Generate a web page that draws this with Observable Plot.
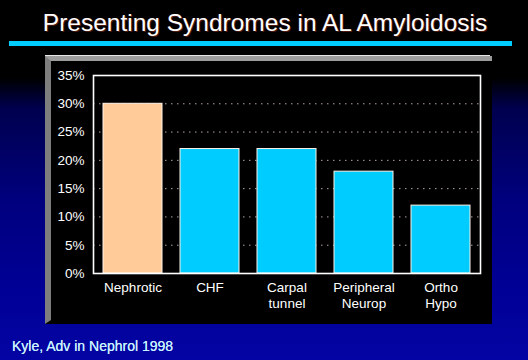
<!DOCTYPE html>
<html>
<head>
<meta charset="utf-8">
<script src="https://cdn.jsdelivr.net/npm/d3@7"></script>
<script src="https://cdn.jsdelivr.net/npm/@observablehq/plot@0.6"></script>
<style>
  html, body { margin: 0; padding: 0; }
  body {
    width: 528px; height: 360px; overflow: hidden; position: relative;
    background: linear-gradient(to bottom, #000 0px, #000 78px, #00004e 108px, #00007e 200px, #000096 290px, #0404a4 360px);
    font-family: "Liberation Sans", Arial, sans-serif;
  }
  #title {
    position: absolute; left: 0; top: 8px; width: 530px; text-align: center;
    color: #fff; font-size: 24.5px; line-height: 30px;
    text-shadow: 1px 1px 0 #4a1a10, -1px 0 0 #2a0a08;
  }
  #rule {
    position: absolute; left: 9px; top: 41px; width: 503px; height: 5px; background: #00ccff;
  }
  #panel {
    position: absolute; left: 45px; top: 56px;
    background: #000;
    border-top: 5px solid #9c9c9c;
    border-left: 6px solid #7e7e7e;
    border-right: 0 solid #000;
    border-bottom: 4px solid #000;
    box-sizing: border-box; width: 447px; height: 268px;
  }
  #panelTop { position: absolute; left: 45px; top: 55px; width: 445px; height: 1px; background: #e8e8e8; }
  #chart { position: absolute; left: 45px; top: 56px; }
  #caption {
    position: absolute; left: 12px; top: 338px; color: #c8f2ff; font-size: 14px;
    text-shadow: 0 0 0.4px #c8f2ff;
  }
</style>
</head>
<body>
<div id="title">Presenting Syndromes in AL Amyloidosis</div>
<div id="rule"></div>
<div id="panel"></div>
<div id="panelTop"></div>
<div id="chart"></div>
<div id="caption">Kyle, Adv in Nephrol 1998</div>
<script>
const categories = ["Nephrotic", "CHF", "Carpal\ntunnel", "Peripheral\nNeurop", "Ortho\nHypo"];
const values = [30, 22, 22, 18, 12];
const yTicks = [0, 5, 10, 15, 20, 25, 30, 35];
const gridTicks = [5, 10, 15, 20, 25, 30];

const data = categories.map((c, i) => ({category: c, value: values[i]}));

const chart = Plot.plot({
  width: 447,
  height: 268,
  marginLeft: 48,
  marginTop: 19,
  marginRight: 12,
  marginBottom: 51,
  style: {background: "transparent", color: "white", fontFamily: "'Liberation Sans', Arial, sans-serif", fontSize: "13px"},
  x: {domain: categories, paddingInner: 0.24, paddingOuter: 0.13, label: null},
  y: {domain: [0, 35], label: null},
  marks: [
    Plot.gridY(gridTicks, {stroke: "#b4a4a4", strokeOpacity: 1, strokeDasharray: "1.5,4.5"}),
    Plot.barY(data, {
      x: "category", y: "value",
      fill: d => d.category === "Nephrotic" ? "#ffcc99" : "#00ccff",
      stroke: "#fff4e8", strokeWidth: 1
    }),
    Plot.frame({stroke: "white", strokeWidth: 1.6}),
    Plot.axisY(yTicks, {tickSize: 0, tickPadding: 9, tickFormat: d => d + "%", fill: "white", fontSize: 13.5, stroke: "white", strokeWidth: 0.25}),
    Plot.axisX({tickSize: 0, tickPadding: 7, fill: "white", fontSize: 13.5, lineHeight: 1.2, stroke: "white", strokeWidth: 0.25})
  ]
});
document.getElementById("chart").appendChild(chart);
</script>
</body>
</html>
